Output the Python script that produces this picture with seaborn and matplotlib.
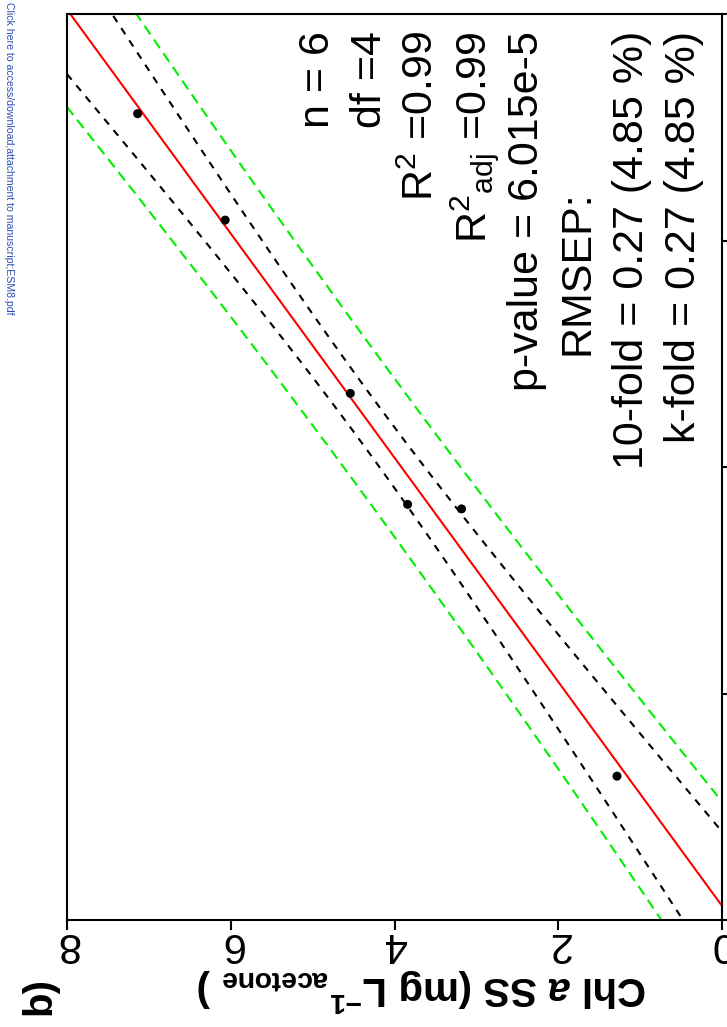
import numpy as np
import pandas as pd
import matplotlib
matplotlib.use("Agg")
import matplotlib.pyplot as plt
import seaborn as sns

# ---- data ----
chl_ss = [7.14, 6.07, 4.54, 3.84, 3.18, 1.28]    # horizontal axis (Chl a SS)
chl_ref = [7.12, 6.18, 4.65, 3.67, 3.63, 1.27]   # vertical axis
xticks_vals = [8, 6, 4, 2, 0]
xtick_labels = ["8", "6", "4", "2", "0"]
yticks_vals = [0, 2, 4, 6, 8]
stat_lines = ["n = 6", "df =4", "R$^{2}$ =0.99", "R$^{2}{}_{\\mathrm{adj}}$ =0.99",
              "p-value = 6.015e-5", "RMSEP:", "10-fold = 0.27 (4.85 %)",
              "k-fold = 0.27 (4.85 %)"]
t_crit = 2.776  # t(0.975, df=4)

sns.set_theme(style="white")
plt.rcParams["font.family"] = ["Liberation Sans", "DejaVu Sans"]
plt.rcParams["mathtext.fontset"] = "custom"
plt.rcParams["mathtext.rm"] = "Liberation Sans"
plt.rcParams["mathtext.it"] = "Liberation Sans:italic"
plt.rcParams["mathtext.bf"] = "Liberation Sans:bold"
plt.rcParams["mathtext.bfit"] = "Liberation Sans:italic:bold"

W, H = 727, 1027
fig = plt.figure(figsize=(W / 100, H / 100), dpi=100)
L, R, T, B = 67.3, 721.7, 14, 920
ax = fig.add_axes([L / W, 1 - B / H, (R - L) / W, (B - T) / H])

def fx(x):
    return x / W

def fy(y):
    return 1 - y / H

# ---- regression of vertical variable on horizontal variable ----
ss = np.array(chl_ss)
ref = np.array(chl_ref)
n = len(ss)
slope, intercept = np.polyfit(ss, ref, 1)
resid = ref - (intercept + slope * ss)
s = np.sqrt(np.sum(resid ** 2) / (n - 2))
sxx = np.sum((ss - ss.mean()) ** 2)
grid = np.linspace(-1, 9, 500)
fit = intercept + slope * grid
se_conf = s * np.sqrt(1 / n + (grid - ss.mean()) ** 2 / sxx)
se_pred = s * np.sqrt(1 + 1 / n + (grid - ss.mean()) ** 2 / sxx)

lw = 1.5
for band in (fit - t_crit * se_pred, fit + t_crit * se_pred):
    sns.lineplot(x=grid, y=band, color="#00ee00", lw=lw, linestyle=(0, (5, 3)), ax=ax)
for band in (fit - t_crit * se_conf, fit + t_crit * se_conf):
    sns.lineplot(x=grid, y=band, color="black", lw=lw, linestyle=(0, (3.5, 3.5)), ax=ax)
sns.lineplot(x=grid, y=fit, color="red", lw=lw, ax=ax)
sns.scatterplot(x=ss, y=ref, color="black", s=42, edgecolor="none", ax=ax, zorder=5)

ax.set_xlim(8, 0)
ax.set_ylim(0, 8)
ax.set_xlabel("")
ax.set_ylabel("")
ax.set_xticks(xticks_vals)
ax.set_xticklabels(xtick_labels)
ax.set_yticks(yticks_vals)
ax.yaxis.tick_right()
ax.tick_params(axis="y", which="both", left=False, right=True, labelleft=False,
               labelright=False, direction="out", length=7.2, width=lw, color="black")
ax.tick_params(axis="x", which="both", bottom=True, top=False, direction="out",
               length=7.2, width=lw, color="black", labelrotation=180,
               labelsize=30, pad=-4.5, labelcolor="black")
for sp in ax.spines.values():
    sp.set_visible(True)
    sp.set_color("black")
    sp.set_linewidth(lw)

# ---- axis label (upside down) ----
fig.text(fx(421.5), fy(977),
         "Chl $\\mathbfit{a}$ SS (mg L$^{\\mathbf{-1}}{}_{\\mathbf{acetone}}$ )",
         rotation=180, rotation_mode="anchor", ha="center", va="baseline",
         fontsize=29, fontweight="bold", color="black")

fig.text(fx(50), fy(996), "b)", rotation=90, rotation_mode="anchor",
         ha="center", va="baseline", fontsize=29, fontweight="bold", color="black")

# ---- statistics text ----
base_x = [329, 381, 433.5, 486, 538, 588, 643, 695]
for txt, bx in zip(stat_lines, base_x):
    ytop = 190 if txt == "RMSEP:" else 31
    fig.text(fx(bx), fy(ytop), txt, rotation=90, rotation_mode="anchor",
             ha="right", va="baseline", fontsize=31, color="black")

# ---- stamp ----
fig.text(fx(6), fy(2), "Click here to access/download;attachment to manuscript;ESM8.pdf",
         rotation=-90, rotation_mode="anchor", ha="left", va="baseline",
         fontsize=7.6, color="#2b4fb0")

fig.savefig("out.png", dpi=100)
